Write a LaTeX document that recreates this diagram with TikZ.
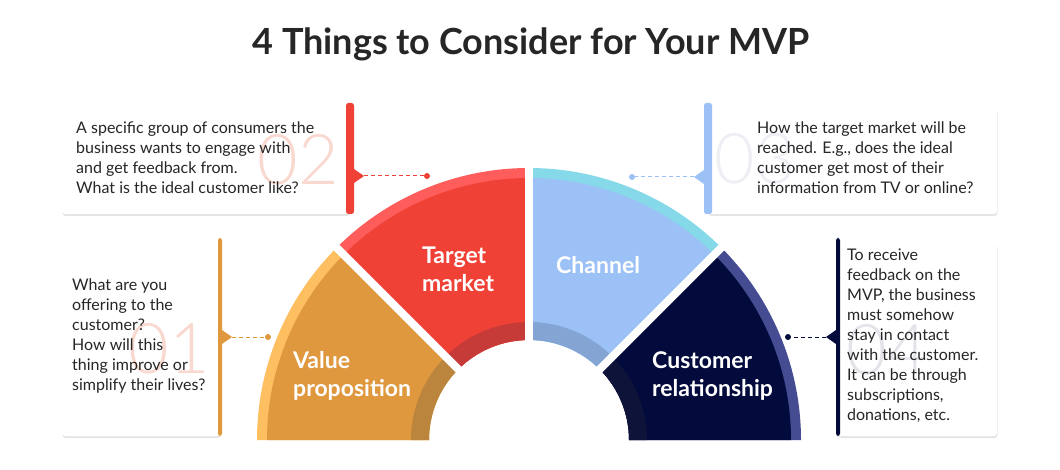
\documentclass[tikz,border=0pt]{standalone}
\usepackage{fontspec}
\setmainfont{Lato}
\IfFontExistsTF{Lato Light}{\newfontfamily\numfont{Lato Light}}{\newfontfamily\numfont{Lato}}
\usetikzlibrary{shadows}
\definecolor{ink}{HTML}{262626}
\definecolor{vpbase}{HTML}{E0983F}
\definecolor{vprim}{HTML}{FDBF60}
\definecolor{vpdark}{HTML}{BC853D}
\definecolor{tmbase}{HTML}{EF4136}
\definecolor{tmrim}{HTML}{FF5C5C}
\definecolor{tmdark}{HTML}{C63B38}
\definecolor{chbase}{HTML}{9BC1F6}
\definecolor{chrim}{HTML}{86D9E8}
\definecolor{chdark}{HTML}{84A5D4}
\definecolor{crbase}{HTML}{030A3C}
\definecolor{crrim}{HTML}{454C91}
\definecolor{crdark}{HTML}{0E1439}
\definecolor{numpink}{HTML}{F9D9CF}
\definecolor{numblue}{HTML}{EDEFF5}
\definecolor{numgrey}{HTML}{E2E4E9}
% annular sector: colour, start angle, end angle, outer radius, inner radius
\newcommand\ringpart[5]{%
  \fill[#1] ([shift={(#2:#4)}]hub) arc[start angle=#2, end angle=#3, radius=#4]
    -- ([shift={(#3:#5)}]hub) arc[start angle=#3, end angle=#2, radius=#5] -- cycle;}
\tikzset{
  seglabel/.style={text=white, font=\fontsize{23}{28}\selectfont\bfseries, align=left, anchor=west, inner sep=0pt},
  boxtext/.style={text=ink, font=\fontsize{16}{20}\selectfont, align=left, anchor=west, inner sep=0pt},
  bignum/.style={font=\numfont\fontsize{70}{70}\selectfont, inner sep=0pt},
  card/.style={fill=white, rounded corners=3pt, drop shadow={shadow xshift=0.5pt, shadow yshift=-2pt, opacity=0.2}},
  cardbar/.style={rounded corners=2.5pt},
  leader/.style={dash pattern=on 4pt off 3pt, line width=1pt},
  enddot/.style={circle, fill, inner sep=0pt, minimum size=6pt}
}

\begin{document}
\begin{tikzpicture}[x=1pt, y=-1pt]
    \useasboundingbox (0,0) rectangle (1060,470);
    \fill[white] (0,0) rectangle (1060,470);

    \node[text=ink, font=\fontsize{36}{40}\selectfont\bfseries] (title) at (531,44) {4 Things to Consider for Your MVP};

    % half ring
    \coordinate (hub) at (529,440);
    \foreach \a/\b/\rim/\base/\dark in {180/225/vprim/vpbase/vpdark, 225/270/tmrim/tmbase/tmdark,
                                        270/315/chrim/chbase/chdark, 315/360/crrim/crbase/crdark}{
        \ringpart{\rim}{\a}{\b}{272}{100}
        \ringpart{\base}{\a}{\b}{262}{100}
        \ringpart{\dark}{\a}{\b}{118}{100}
    }
    \foreach \g in {225,270,315}
        \draw[white, line width=8pt] ([shift={(\g:95)}]hub) -- ([shift={(\g:282)}]hub);

    \node[seglabel] (vp) at (293,376) {Value\\proposition};
    \node[seglabel] (tm) at (422,269) {Target\\market};
    \node[seglabel] (ch) at (556,265) {Channel};
    \node[seglabel] (cr) at (652,376) {Customer\\relationship};

    % cards
    \fill[card] (62,107) rectangle (350,214);
    \fill[card] (62,242) rectangle (220,436);
    \fill[card] (708,107) rectangle (997,214);
    \fill[card] (838,242) rectangle (997,436);

    \fill[tmbase, cardbar] (346,103) rectangle (354,214);
    \fill[tmbase] (354,169) -- (364,176) -- (354,183) -- cycle;
    \fill[vpbase, cardbar] (218,238) rectangle (222,436);
    \fill[vpbase] (222,330) -- (232,337) -- (222,344) -- cycle;
    \fill[chbase, cardbar] (704,103) rectangle (712,214);
    \fill[chbase] (704,170) -- (694,177) -- (704,184) -- cycle;
    \fill[crbase, cardbar] (836,238) rectangle (840,436);
    \fill[crbase] (836,330) -- (826,337) -- (836,344) -- cycle;

    \node[bignum, text=numpink] (n02) at (298,160) {02};
    \node[bignum, text=numpink] (n01) at (169,349) {01};
    \node[bignum, text=numblue] (n03) at (755,159) {03};
    \node[bignum, text=numgrey] (n04) at (887,350) {04};

    \node[boxtext] (txt02) at (76,158) {A specific group of consumers the\\business wants to engage with\\and get feedback from.\\What is the ideal customer like?};
    \node[boxtext] (txt01) at (72,336) {What are you\\offering to the\\customer?\\How will this\\thing improve or\\simplify their lives?};
    \node[boxtext] (txt03) at (757,158) {How the target market will be\\reached. E.g., does the ideal\\customer get most of their\\information from TV or online?};
    \node[boxtext] (txt04) at (847,336) {To receive\\feedback on the\\MVP, the business\\must somehow\\stay in contact\\with the customer.\\It can be through\\subscriptions,\\donations, etc.};

    % leaders
    \coordinate (tip02) at (364,176);
    \coordinate (tip01) at (232,337);
    \coordinate (tip03) at (694,177);
    \coordinate (tip04) at (826,337);
    \node[enddot, tmbase] (dot02) at (427,176) {};
    \node[enddot, vpbase] (dot01) at (268,337) {};
    \node[enddot, chbase] (dot03) at (632,177) {};
    \node[enddot, crbase] (dot04) at (788,337) {};
    \draw[leader, tmbase] (tip02) -- (dot02);
    \draw[leader, vpbase] (tip01) -- (dot01);
    \draw[leader, chbase] (tip03) -- (dot03);
    \draw[leader, crbase] (tip04) -- (dot04);
\end{tikzpicture}
\end{document}
